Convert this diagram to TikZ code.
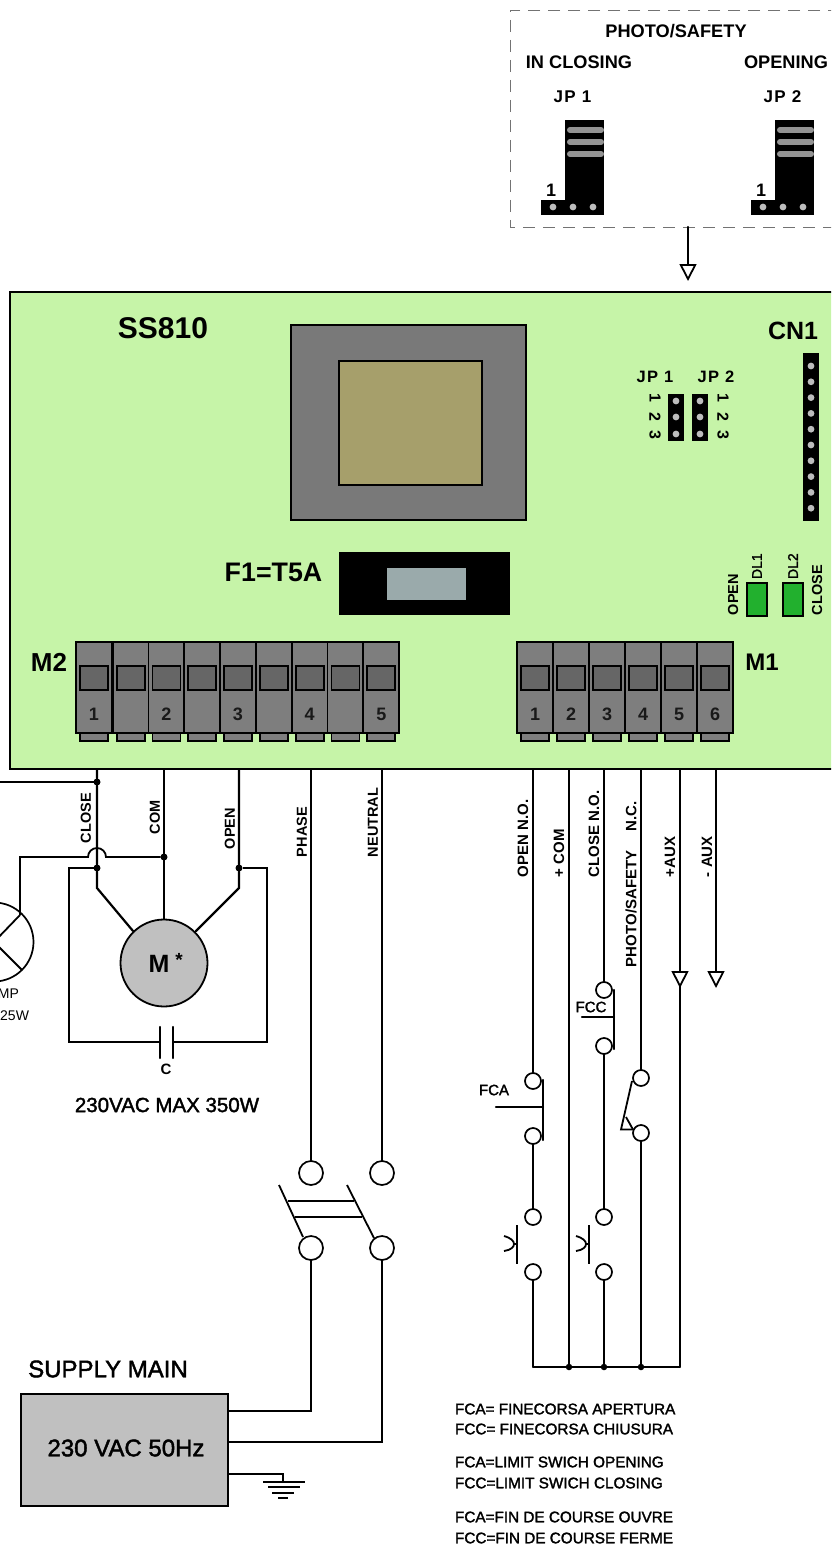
\documentclass[tikz,border=0pt]{standalone}
\usepackage{fontspec}
\setmainfont{Liberation Sans}
\newfontfamily\semi[FakeBold=1.8]{Liberation Sans}
\usetikzlibrary{arrows.meta}
\definecolor{boardgreen}{HTML}{C6F4A8}
\definecolor{blockgray}{HTML}{7E7E7E}
\definecolor{windowgray}{HTML}{666666}
\definecolor{coreolive}{HTML}{A69F6B}
\definecolor{fusegray}{HTML}{9AAAAB}
\definecolor{ledgreen}{HTML}{22B02E}
\definecolor{pingray}{HTML}{BDBDBD}
\definecolor{panelgray}{HTML}{C0C0C0}
\tikzset{
  wire/.style={line width=2.2pt,line cap=round,line join=miter},
  thinwire/.style={line width=1.8pt},
  txt/.style={inner sep=0pt,outer sep=0pt,text=black},
  vlab/.style={txt,rotate=90,anchor=west,font=\bfseries\fontsize{15}{15}\selectfont},
  term/.style={circle,draw=black,line width=1.7pt,fill=white,minimum size=16pt,inner sep=0pt,outer sep=0pt},
  bigterm/.style={term,minimum size=24pt},
  dot/.style={circle,fill=black,minimum size=7pt,inner sep=0pt,outer sep=0pt},
  tri/.style={wire,-{Triangle[fill=white,length=17pt,width=17pt,line width=1.8pt]}},
  block/.style={draw=black,line width=1.8pt,fill=blockgray},
  legend/.style={txt,anchor=west,font=\semi\fontsize{15.3}{16}\selectfont},
}
\begin{document}
\begin{tikzpicture}[x=1pt,y=-1pt]
\useasboundingbox (0,0) rectangle (831,1546);
\clip (0,0) rectangle (831,1546);
\fill[white] (0,0) rectangle (831,1546);

%% Jumper panel
\draw[gray!90!black,line width=0.9pt,dash pattern=on 12pt off 8pt] (840,10) -- (510,10) -- (510,227) -- (840,227);
\node[txt,font=\bfseries\fontsize{18.2}{18}\selectfont] (ttl) at (676,31) {PHOTO/SAFETY};
\node[txt,font=\bfseries\fontsize{18.2}{18}\selectfont] (incl) at (579,62) {IN CLOSING};
\node[txt,font=\bfseries\fontsize{18.2}{18}\selectfont] (opng) at (786,62) {OPENING};
\foreach \ox/\nm/\lb in {0/a/JP 1,210/b/JP 2}{
  \begin{scope}[xshift=\ox pt]
    \fill[black] (565,120) rectangle (604,200);
    \fill[black] (541,200) rectangle (604,215);
    \foreach \yy in {130,142,154}
      \draw[gray!85,line width=6pt,line cap=round] (570,\yy) -- (601,\yy);
    \foreach \xx in {553,573,593}
      \fill[pingray] (\xx,207) circle (3.4pt);
    \node[txt,font=\bfseries\fontsize{17}{17}\selectfont\addfontfeatures{LetterSpace=8}] (jpt\nm) at (572.5,97) {\lb};
    \node[txt,font=\bfseries\fontsize{18}{18}\selectfont] (one\nm) at (551,190) {1};
  \end{scope}
}

%% Board
\draw[black,line width=2pt,fill=boardgreen] (10,292) rectangle (845,769);
\node[txt,font=\bfseries\fontsize{30}{30}\selectfont] (ss) at (163,328) {SS810};
\node[txt,font=\bfseries\fontsize{25}{25}\selectfont] (cn) at (793,331) {CN1};
\draw[black,line width=1.6pt,fill=gray!95!black] (291,325) rectangle (526,520);
\draw[black,line width=1.6pt,fill=coreolive] (339,361) rectangle (482,485);

%% Jumpers on board
\node[txt,font=\bfseries\fontsize{16.5}{17}\selectfont\addfontfeatures{LetterSpace=8}] (bj1) at (655,377) {JP 1};
\node[txt,font=\bfseries\fontsize{16.5}{17}\selectfont\addfontfeatures{LetterSpace=8}] (bj2) at (716,377) {JP 2};
\fill[black] (668,394) rectangle (684,441);
\fill[black] (692,394) rectangle (708,441);
\foreach \yy/\n in {401/1,417/2,434/3}{
  \fill[pingray] (676,\yy) circle (3.4pt);
  \fill[pingray] (700,\yy) circle (3.4pt);
}
\foreach \yy/\n in {398/1,417/2,435/3}{
  \node[txt,rotate=-90,font=\bfseries\fontsize{16}{16}\selectfont] (na\n) at (655,\yy) {\n};
  \node[txt,rotate=-90,font=\bfseries\fontsize{16}{16}\selectfont] (nb\n) at (723,\yy) {\n};
}
%% CN1
\fill[black] (803,353) rectangle (819,521);
\foreach \i in {0,...,9}
  \fill[pingray] (811,366+\i*15.8) circle (3.4pt);
%% LEDs
\draw[black,line width=1.8pt,fill=ledgreen] (747,583) rectangle (767,616);
\draw[black,line width=1.8pt,fill=ledgreen] (783,583) rectangle (803,616);
\node[vlab,font=\semi\fontsize{14}{14}\selectfont] (dl1) at (757,579) {DL1};
\node[vlab,font=\semi\fontsize{14}{14}\selectfont] (dl2) at (793,579) {DL2};
\node[vlab,font=\bfseries\fontsize{14.5}{15}\selectfont] (opn) at (733,615) {OPEN};
\node[vlab,font=\bfseries\fontsize{14.5}{15}\selectfont] (cls) at (817,615) {CLOSE};
%% Fuse
\fill[black] (339,552) rectangle (510,615);
\fill[fusegray] (387,568) rectangle (466,600);
\node[txt,font=\bfseries\fontsize{26.8}{27}\selectfont] (fuse) at (273.5,572) {F1=T5A};

%% Terminals M2
\foreach \i/\xa/\lb in {0/76/1,1/112.7/,2/148.5/2,3/184.3/,4/220/3,5/256/,6/291.7/4,7/327.5/,8/363.3/5}{
  \draw[block] (\xa+4,733) rectangle (\xa+32,741);
  \draw[block] (\xa,642) rectangle (\xa+36,733);
  \draw[black,line width=1.8pt,fill=windowgray] (\xa+4,666) rectangle (\xa+32,690);
  \node[txt,font=\bfseries\fontsize{18}{18}\selectfont,text=black!90] (mtwo\i) at (\xa+18,714) {\lb};
}
\node[txt,font=\bfseries\fontsize{26}{26}\selectfont] (mtwolab) at (49,662) {M2};
%% Terminals M1
\foreach \i/\xa in {1/517,2/553,3/589,4/625,5/661,6/697}{
  \draw[block] (\xa+4,733) rectangle (\xa+32,741);
  \draw[block] (\xa,642) rectangle (\xa+36,733);
  \draw[black,line width=1.8pt,fill=windowgray] (\xa+4,666) rectangle (\xa+32,690);
  \node[txt,font=\bfseries\fontsize{18}{18}\selectfont,text=black!90] (mone\i) at (\xa+18,714) {\i};
}
\node[txt,font=\bfseries\fontsize{24}{24}\selectfont] (monelab) at (762,662) {M1};

%% Board tap points
\coordinate (pa) at (688,227);
\coordinate (pb) at (688,281);
\foreach \n/\xx in {c1/97,c2/164,c3/239,c4/311,c5/382,d1/533,d2/569,d3/604,d4/641,d5/680,d6/716}
  \coordinate (\n) at (\xx,770);
\draw[tri] (pa) -- (pb);

%% Motor and capacitor
\node[circle,draw=black,line width=1.8pt,fill=panelgray,minimum size=87pt,inner sep=0pt] (motor) at (164,963) {};
\node[txt,font=\bfseries\fontsize{25}{25}\selectfont] (mm) at (159,964) {M};
\node[txt,font=\bfseries\fontsize{19}{19}\selectfont] (mst) at (179,960) {*};
\node[dot] (j0) at (97,782) {};
\node[dot] (j1) at (97,868) {};
\node[dot] (j2) at (164,857) {};
\node[dot] (j3) at (239,868) {};
\coordinate (lampend) at (-5,782);
\coordinate (ka) at (97,888);
\coordinate (kb) at (239,888);
\coordinate (ma) at (133,931);
\coordinate (mb) at (196,931);
\draw[thinwire] (lampend) -- (j0);
\draw[wire] (c1) -- (j0) -- (j1) -- (ka) -- (ma);
\draw[wire] (c2) -- (j2) -- (motor.north);
\draw[wire] (c3) -- (j3) -- (kb) -- (mb);
\coordinate (cl) at (160,1042);
\coordinate (cr) at (173,1042);
\coordinate (cla) at (160,1027);
\coordinate (clb) at (160,1058);
\coordinate (cra) at (173,1027);
\coordinate (crb) at (173,1058);
\draw[wire,line cap=butt] (j1) -- (69,868) -- (69,1042) -- (cl);
\draw[wire,line cap=butt] (j3) -- (267,868) -- (267,1042) -- (cr);
\draw[wire] (cla) -- (clb);
\draw[wire] (cra) -- (crb);
\node[txt,font=\bfseries\fontsize{15}{15}\selectfont] (clab) at (166,1069) {C};
\node[txt,font=\semi\fontsize{20.5}{21}\selectfont] (mlab) at (167,1105) {230VAC MAX 350W};

%% Lamp
\node[circle,draw=black,line width=1.7pt,fill=white,minimum size=79pt,inner sep=0pt] (lamp) at (-6,942) {};
\coordinate (la) at (20,915);
\coordinate (lb) at (22,970);
\draw[thinwire] (lamp.center) -- (la);
\draw[thinwire] (lamp.center) -- (lb);
\draw[thinwire] (la) -- (20,857) -- (88,857) arc[start angle=180,end angle=0,radius=9pt] -- (j2);
\node[txt,anchor=east,font=\fontsize{14}{14}\selectfont] (lamp1) at (19,994) {MP};
\node[txt,anchor=east,font=\fontsize{14}{14}\selectfont] (lamp2) at (29,1016) {25W};

%% Wire labels
\node[vlab,font=\bfseries\fontsize{14.5}{15}\selectfont] (lclose) at (86,843) {CLOSE};
\node[vlab,font=\bfseries\fontsize{14.5}{15}\selectfont] (lcom) at (155,834) {COM};
\node[vlab,font=\bfseries\fontsize{14.5}{15}\selectfont] (lopen) at (230,849) {OPEN};
\node[vlab,font=\bfseries\fontsize{14.5}{15}\selectfont] (lphase) at (302,857) {PHASE};
\node[vlab,font=\bfseries\fontsize{14.5}{15}\selectfont] (lneut) at (373,857) {NEUTRAL};
\node[vlab] (lono) at (523,877) {OPEN N.O.};
\node[vlab] (lcm) at (559,877) {+ COM};
\node[vlab] (lcno) at (594,877) {CLOSE N.O.};
\node[vlab] (lph) at (631,967) {PHOTO/SAFETY\hspace{19pt}N.C.};
\node[vlab] (lpa) at (670,877) {+AUX};
\node[vlab] (lma) at (707,877) {- AUX};

%% Mains switch
\node[bigterm] (s1) at (311,1173) {};
\node[bigterm] (s2) at (382,1173) {};
\node[bigterm] (s3) at (311,1248) {};
\node[bigterm] (s4) at (382,1248) {};
\draw[wire] (c4) -- (s1);
\draw[wire] (c5) -- (s2);
\draw[thinwire] (279,1185) -- (303,1237);
\draw[thinwire] (347,1185) -- (374,1238);
\draw[wire,line cap=butt] (288,1201) -- (354,1201);
\draw[wire,line cap=butt] (295,1217) -- (362,1217);

%% Supply
\node[draw=black,line width=2.4pt,fill=panelgray,minimum width=207pt,minimum height=112pt,inner sep=0pt] (sup) at (124.5,1450) {};
\node[txt,font=\semi\fontsize{24}{24}\selectfont] (suplab) at (126,1448) {230 VAC 50Hz};
\node[txt,font=\semi\fontsize{24}{24}\selectfont] (supttl) at (108,1369) {SUPPLY MAIN};
\coordinate (e1) at (228,1411);
\coordinate (e2) at (228,1442);
\coordinate (e3) at (228,1474);
\coordinate (gnd) at (283,1482);
\draw[wire,line cap=butt] (s3) -- (311,1411) -- (e1);
\draw[wire,line cap=butt] (s4) -- (382,1442) -- (e2);
\draw[thinwire] (e3) -- (283,1474) -- (gnd);
\draw[line width=1.8pt] (263,1482) -- (305,1482);
\draw[line width=1.8pt] (268,1487) -- (300,1487);
\draw[line width=1.8pt] (272,1493) -- (294,1493);
\draw[line width=1.8pt] (278,1498) -- (288,1498);

%% FCA contact and pushbutton
\node[term] (a1) at (533,1081) {};
\node[term] (a2) at (533,1136) {};
\node[term] (b1) at (533,1217) {};
\node[term] (b2) at (533,1272) {};
\node[term] (c6) at (604,990) {};
\node[term] (c7) at (604,1046) {};
\node[term] (e4) at (604,1217) {};
\node[term] (e5) at (604,1272) {};
\node[term] (f1) at (641,1078) {};
\node[term] (f2) at (641,1133) {};
\node[dot,minimum size=6.5pt] (g1) at (569,1367) {};
\node[dot,minimum size=6.5pt] (g2) at (604,1367) {};
\node[dot,minimum size=6.5pt] (g3) at (641,1367) {};
\coordinate (g0) at (533,1367);
\coordinate (g4) at (680,1367);
\draw[wire] (d1) -- (a1);
\draw[wire] (a2) -- (b1);
\draw[wire] (b2) -- (g0);
\draw[wire] (d2) -- (g1);
\draw[wire] (d3) -- (c6);
\draw[wire] (c7) -- (e4);
\draw[wire] (e5) -- (g2);
\draw[wire] (d4) -- (f1);
\draw[wire] (f2) -- (g3);
\draw[wire] (d5) -- (g4);
\draw[wire,line cap=butt,line join=miter] (g0) -- (g4);
\coordinate (tp) at (680,988);
\coordinate (tq) at (680,960);
\coordinate (tr) at (716,988);
\draw[tri] (tq) -- (tp);
\draw[tri] (d6) -- (tr);
%% Limit switch bars
\draw[wire] (543,1080) -- (543,1140);
\draw[wire] (496,1107) -- (543,1107);
\node[txt,font=\semi\fontsize{15}{15}\selectfont] (fca) at (494,1090) {FCA};
\draw[wire] (614,990) -- (614,1049);
\draw[wire] (582,1017) -- (614,1017);
\node[txt,font=\semi\fontsize{15}{15}\selectfont] (fcc) at (591,1007) {FCC};
%% NC contact
\draw[thinwire] (632,1081) -- (621,1129.5) -- (633,1129.5);
\draw[thinwire] (626,1117) -- (633,1129.5);
%% Pushbuttons
\foreach \ox in {0,72}{
  \begin{scope}[xshift=\ox pt]
    \draw[wire,line cap=butt] (517,1225) -- (517,1264);
    \draw[thinwire] (504,1236) .. controls (511,1238) and (514,1241) .. (514,1244) .. controls (514,1247) and (511,1250) .. (504,1251);
    \draw[thinwire] (514,1244) -- (517,1244);
  \end{scope}
}

%% Legend
\node[legend] (lg1) at (455,1409) {FCA= FINECORSA APERTURA};
\node[legend] (lg2) at (455,1429) {FCC= FINECORSA CHIUSURA};
\node[legend] (lg3) at (455,1462) {FCA=LIMIT SWICH OPENING};
\node[legend] (lg4) at (455,1483) {FCC=LIMIT SWICH CLOSING};
\node[legend] (lg5) at (455,1517) {FCA=FIN DE COURSE OUVRE};
\node[legend] (lg6) at (455,1538) {FCC=FIN DE COURSE FERME};
\end{tikzpicture}
\end{document}
